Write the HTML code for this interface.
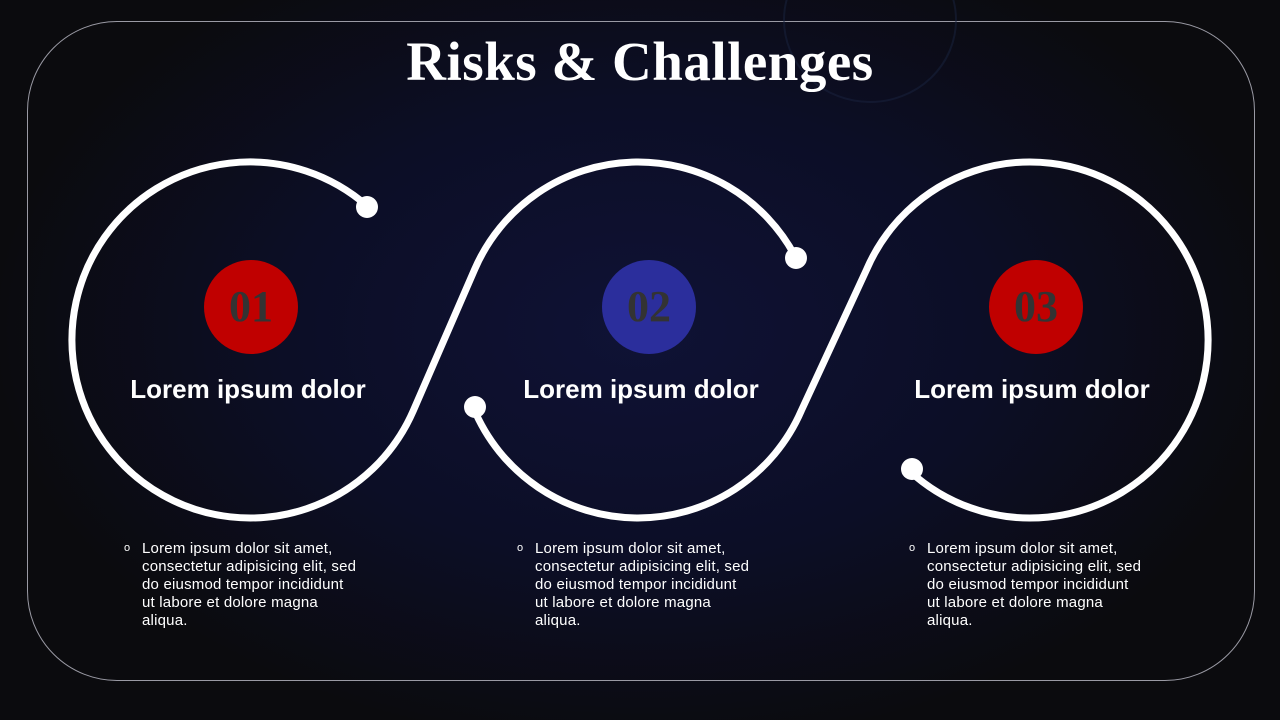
<!DOCTYPE html>
<html><head><style>
body{margin:0;width:1280px;height:720px;overflow:hidden;background:#0b0b0c;font-family:"Liberation Sans",sans-serif;position:relative}
.bg{position:absolute;left:0;top:0;width:1280px;height:720px;background:radial-gradient(ellipse 650px 420px at 640px 330px,#0f1235 0%,#0c0e26 55%,#0b0b0e 100%)}
.frame{position:absolute;left:27px;top:21px;width:1226px;height:658px;border:1px solid #9a9aa4;border-radius:90px}
.title{position:absolute;left:0;width:1280px;top:30px;text-align:center;color:#fff;font-family:"Liberation Serif",serif;font-weight:bold;font-size:55px;letter-spacing:0.5px}
.h{position:absolute;width:300px;text-align:center;color:#fff;font-weight:bold;font-size:26px;top:374px}
.num{position:absolute;width:100px;text-align:center;color:#333;font-family:"Liberation Serif",serif;font-weight:bold;font-size:44px;top:281px}
.b{position:absolute;top:540px;color:#fff;font-size:15px;letter-spacing:0.2px;line-height:18px;width:240px;white-space:nowrap}
.b span{position:absolute;left:-18px;top:-1px;font-size:11px}
</style></head><body>
<div class="bg"></div>
<div class="frame"></div>
<svg width="1280" height="720" style="position:absolute;left:0;top:0">
<ellipse cx="870" cy="20" rx="86" ry="82" fill="none" stroke="#1a2440" stroke-width="2" opacity="0.5"/>
<g fill="none" stroke="#fff" stroke-width="7" stroke-linecap="round">
<path d="M367.4,206.2 A178,178 0 1 0 413.3,410.7 L474.7,269.3 A178,178 0 0 1 796.1,258.1"/>
<path d="M473.4,407.8 A178,178 0 0 0 801.3,410.7 L866.7,269.3 A178,178 0 1 1 910,471.4"/>
</g>
<g fill="#fff"><circle cx="367" cy="207" r="11"/><circle cx="796" cy="258" r="11"/><circle cx="475" cy="407" r="11"/><circle cx="912" cy="469" r="11"/></g>
<circle cx="251" cy="307" r="47" fill="#c00000"/>
<circle cx="649" cy="307" r="47" fill="#2b2e9c"/>
<circle cx="1036" cy="307" r="47" fill="#c00000"/>
</svg>
<div class="title">Risks &amp; Challenges</div>
<div class="num" style="left:201px">01</div>
<div class="num" style="left:599px">02</div>
<div class="num" style="left:986px">03</div>
<div class="h" style="left:98px">Lorem ipsum dolor</div>
<div class="h" style="left:491px">Lorem ipsum dolor</div>
<div class="h" style="left:882px">Lorem ipsum dolor</div>
<div class="b" style="left:142px"><span>o</span>Lorem ipsum dolor sit amet,<br>consectetur adipisicing elit, sed<br>do eiusmod tempor incididunt<br>ut labore et dolore magna<br>aliqua.</div>
<div class="b" style="left:535px"><span>o</span>Lorem ipsum dolor sit amet,<br>consectetur adipisicing elit, sed<br>do eiusmod tempor incididunt<br>ut labore et dolore magna<br>aliqua.</div>
<div class="b" style="left:927px"><span>o</span>Lorem ipsum dolor sit amet,<br>consectetur adipisicing elit, sed<br>do eiusmod tempor incididunt<br>ut labore et dolore magna<br>aliqua.</div>
</body></html>
